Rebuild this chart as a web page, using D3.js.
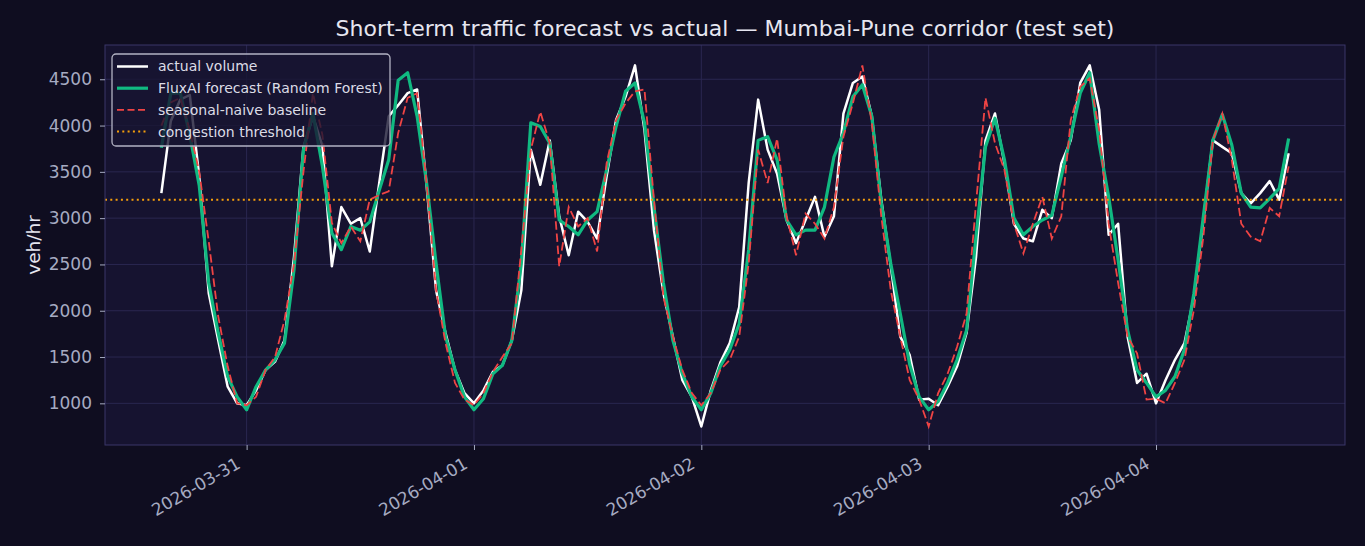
<!DOCTYPE html>
<html>
<head>
<meta charset="utf-8">
<script src="https://cdn.jsdelivr.net/npm/d3@7/dist/d3.min.js"></script>
<style>
	body { margin: 0; background: #0f0d20; }
	svg { display: block; font-family: "DejaVu Sans", sans-serif; }
</style>
</head>
<body>
<svg id="chart" width="1365" height="546"></svg>
<script>
	/**
	 * Data (hourly, test set)
	 */
	const startHour = Date.UTC(2026, 2, 30, 15);

	const actual = [
		3270, 4050, 4280, 4330, 3450, 2190, 1680, 1180, 1000, 980,
		1140, 1360, 1450, 1680, 2580, 3770, 4100, 3780, 2480, 3120,
		2940, 3000, 2640, 3380, 4100, 4220, 4350, 4390, 3350, 2220,
		1760, 1360, 1110, 1000, 1140, 1340, 1410, 1680, 2220, 3740,
		3360, 3840, 3020, 2600, 3070, 2960, 2780, 3450, 4060, 4310,
		4650, 3950, 2870, 2190, 1720, 1250, 1070, 750, 1140, 1440,
		1650, 2040, 3380, 4280, 3740, 3480, 2980, 2730, 2980, 3230,
		2800, 3020, 4130, 4460, 4530, 4100, 3200, 2480, 1720, 1520,
		1040, 1050, 980, 1180, 1400, 1760, 2580, 3840, 4130, 3590,
		2940, 2780, 2750, 3090, 3000, 3590, 3840, 4460, 4650, 4170,
		2820, 2940, 1720, 1220, 1320, 1000, 1250, 1470, 1650, 2150,
		2980, 3840, 3770, 3700, 3270, 3160, 3270, 3400, 3200, 3700
	];

	const forecast = [
		3760, 4350, 4350, 3900, 3350, 2300, 1760, 1290, 1070, 930,
		1180, 1360, 1470, 1650, 2440, 3740, 4130, 3560, 2840, 2660,
		2910, 2870, 2960, 3300, 3630, 4490, 4570, 4100, 3380, 2510,
		1720, 1360, 1070, 930, 1050, 1320, 1410, 1680, 2510, 4030,
		3990, 3810, 2980, 2910, 2820, 2980, 3070, 3520, 3990, 4370,
		4460, 4030, 3120, 2300, 1680, 1320, 1070, 930, 1110, 1400,
		1580, 1860, 2660, 3840, 3880, 3630, 2980, 2820, 2870, 2870,
		3120, 3660, 3920, 4310, 4440, 4100, 3160, 2510, 1970, 1420,
		1070, 930, 1020, 1220, 1470, 1790, 2800, 3770, 4080, 3630,
		3000, 2820, 2910, 2980, 3030, 3450, 3880, 4350, 4570, 3800,
		3230, 2550, 1790, 1360, 1220, 1070, 1140, 1290, 1580, 2190,
		3020, 3840, 4120, 3790, 3270, 3120, 3110, 3210, 3320, 3860
	];

	const baseline = [
		4000, 4250, 4300, 3950, 3500, 2750, 1940, 1400, 1000, 980,
		1070, 1360, 1500, 1900, 2500, 3500, 4350, 3900, 2950, 2730,
		2910, 2750, 3200, 3250, 3290, 3920, 4300, 4350, 3380, 2220,
		1650, 1220, 1040, 980, 1110, 1340, 1500, 1650, 2660, 3740,
		4150, 3810, 2480, 3120, 2910, 3000, 2640, 3590, 4060, 4240,
		4370, 4390, 3200, 2150, 1720, 1360, 1110, 980, 1110, 1360,
		1470, 1720, 2510, 3740, 3380, 3860, 3020, 2600, 3050, 2940,
		2780, 3120, 3880, 4240, 4650, 4030, 3020, 2220, 1720, 1250,
		1040, 750, 1110, 1320, 1610, 1970, 3160, 4300, 3810, 3520,
		2940, 2620, 2940, 3230, 2780, 3020, 4060, 4420, 4510, 3950,
		2940, 2300, 1720, 1540, 1040, 1050, 1000, 1220, 1470, 2010,
		2800, 3840, 4130, 3630, 2940, 2800, 2750, 3110, 3020, 3560
	];

	const threshold = 3200;
	const yTicks = [1000, 1500, 2000, 2500, 3000, 3500, 4000, 4500];

	const seriesNames = ["actual volume", "FluxAI forecast (Random Forest)", "seasonal-naive baseline", "congestion threshold"];

	/**
	 * Layout & Styles
	 */
	const width = 1365;
	const height = 546;
	const margin = { top: 45, right: 20, bottom: 101, left: 105 };
	const plotW = width - margin.left - margin.right;
	const plotH = height - margin.top - margin.bottom;

	const colors = {
		figure: "#0f0d20",
		axes: "#161330",
		grid: "#2a2750",
		spine: "#3a3768",
		tick: "#a6abc2",
		title: "#e6e6f0",
		actual: "#ffffff",
		forecast: "#10b981",
		baseline: "#ef4444",
		threshold: "#f59e0b"
	};

	let times = actual.map(function(d, i) { return new Date(startHour + i * 3600e3); });

	/**
	 * Scales
	 */
	let tExtent = d3.extent(times);
	let pad = (tExtent[1] - tExtent[0]) * 0.05;
	let x = d3.scaleUtc()
		.domain([new Date(+tExtent[0] - pad), new Date(+tExtent[1] + pad)])
		.range([0, plotW]);

	let y = d3.scaleLinear()
		.domain([550, 4870])
		.range([plotH, 0]);

	let svg = d3.select("#chart");
	svg.append("rect").attr("width", width).attr("height", height).attr("fill", colors.figure);

	let g = svg.append("g").attr("transform", "translate(" + margin.left + "," + margin.top + ")");

	g.append("rect")
		.attr("width", plotW)
		.attr("height", plotH)
		.attr("fill", colors.axes);

	// Grid
	let dayTicks = x.ticks(d3.utcDay.every(1));

	g.append("g").selectAll("line")
		.data(yTicks)
		.enter().append("line")
		.attr("x1", 0).attr("x2", plotW)
		.attr("y1", function(d) { return y(d); })
		.attr("y2", function(d) { return y(d); })
		.attr("stroke", colors.grid)
		.attr("stroke-width", 1);

	g.append("g").selectAll("line")
		.data(dayTicks)
		.enter().append("line")
		.attr("y1", 0).attr("y2", plotH)
		.attr("x1", function(d) { return x(d); })
		.attr("x2", function(d) { return x(d); })
		.attr("stroke", colors.grid)
		.attr("stroke-width", 1);

	// Series lines
	let line = d3.line()
		.x(function(d, i) { return x(times[i]); })
		.y(function(d) { return y(d); });

	g.append("path")
		.datum(actual)
		.attr("d", line)
		.attr("fill", "none")
		.attr("stroke", colors.actual)
		.attr("stroke-width", 2.5)
		.attr("stroke-linejoin", "round");

	g.append("path")
		.datum(forecast)
		.attr("d", line)
		.attr("fill", "none")
		.attr("stroke", colors.forecast)
		.attr("stroke-width", 3.2)
		.attr("stroke-linejoin", "round");

	g.append("path")
		.datum(baseline)
		.attr("d", line)
		.attr("fill", "none")
		.attr("stroke", colors.baseline)
		.attr("stroke-width", 1.8)
		.attr("stroke-dasharray", "8.5,3.7");

	g.append("line")
		.attr("x1", 0).attr("x2", plotW)
		.attr("y1", y(threshold)).attr("y2", y(threshold))
		.attr("stroke", colors.threshold)
		.attr("stroke-width", 2)
		.attr("stroke-dasharray", "2,3.3");

	// Frame
	g.append("rect")
		.attr("width", plotW)
		.attr("height", plotH)
		.attr("fill", "none")
		.attr("stroke", colors.spine)
		.attr("stroke-width", 1);

	// Axes
	let yAxis = g.append("g")
		.call(d3.axisLeft(y).tickValues(yTicks).tickSize(5).tickPadding(8).tickFormat(d3.format("d")));

	let xAxis = g.append("g")
		.attr("transform", "translate(0," + plotH + ")")
		.call(d3.axisBottom(x).tickValues(dayTicks).tickSize(5).tickFormat(d3.utcFormat("%Y-%m-%d")));

	[yAxis, xAxis].forEach(function(ax) {
		ax.select(".domain").remove();
		ax.selectAll(".tick line").attr("stroke", colors.tick);
		ax.selectAll(".tick text")
			.attr("fill", colors.tick)
			.style("font-size", "17px")
			.style("font-family", "DejaVu Sans");
	});

	xAxis.selectAll(".tick text")
		.attr("text-anchor", "end")
		.attr("dy", null)
		.attr("y", null)
		.attr("dominant-baseline", "hanging")
		.attr("transform", "translate(-12,11) rotate(-30)");

	// Title & label
	svg.append("text")
		.attr("x", margin.left + plotW / 2)
		.attr("y", 36)
		.attr("text-anchor", "middle")
		.attr("fill", colors.title)
		.style("font-size", "22px")
		.text("Short-term traffic forecast vs actual \u2014 Mumbai-Pune corridor (test set)");

	svg.append("text")
		.attr("transform", "translate(40," + (margin.top + plotH / 2) + ") rotate(-90)")
		.attr("text-anchor", "middle")
		.attr("fill", colors.title)
		.style("font-size", "18.5px")
		.text("veh/hr");

	/**
	 * Legend
	 */
	let legend = g.append("g").attr("transform", "translate(7,9)");

	legend.append("rect")
		.attr("width", 278)
		.attr("height", 92)
		.attr("rx", 4)
		.attr("fill", "#181532")
		.attr("fill-opacity", 0.8)
		.attr("stroke", "#b3b3c3")
		.attr("stroke-width", 1.3);

	let legendStyles = [
		{ color: colors.actual, w: 2.5, dash: null },
		{ color: colors.forecast, w: 3.2, dash: null },
		{ color: colors.baseline, w: 1.8, dash: "7,3.5" },
		{ color: colors.threshold, w: 2, dash: "2,3.3" }
	];

	let rows = legend.selectAll("g.row")
		.data(seriesNames)
		.enter().append("g")
		.attr("class", "row")
		.attr("transform", function(d, i) { return "translate(0," + (12.5 + i * 21.7) + ")"; });

	rows.append("line")
		.attr("x1", 5).attr("x2", 36)
		.attr("stroke", function(d, i) { return legendStyles[i].color; })
		.attr("stroke-width", function(d, i) { return legendStyles[i].w; })
		.attr("stroke-dasharray", function(d, i) { return legendStyles[i].dash; });

	rows.append("text")
		.attr("x", 46)
		.attr("dy", "0.35em")
		.attr("fill", "#dcdce6")
		.style("font-size", "14px")
		.text(function(d) { return d; });
</script>
</body>
</html>
